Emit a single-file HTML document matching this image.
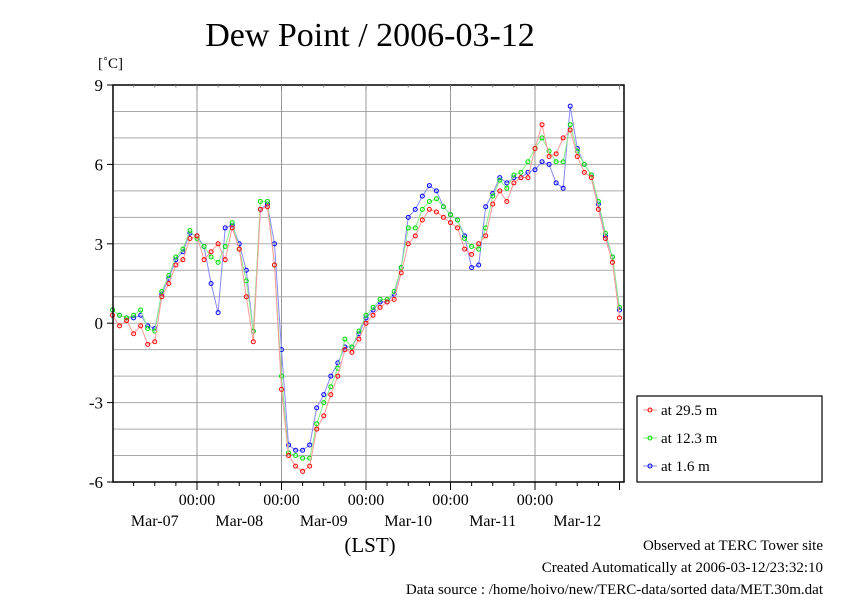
<!DOCTYPE html>
<html><head><meta charset="utf-8"><style>
body{margin:0;background:#fff;}
svg{display:block;font-family:"Liberation Serif",serif;}
</style></head><body>
<svg id="chart" width="842" height="595" viewBox="0 0 842 595" xmlns="http://www.w3.org/2000/svg">
<rect width="842" height="595" fill="#fff"/>
<text x="370" y="46" font-size="34" text-anchor="middle">Dew Point / 2006-03-12</text>
<text x="98" y="68" font-size="15">[˚C]</text>
<g id="grid"></g>
<g id="series"></g>
<rect x="113" y="85" width="511" height="397" fill="none" stroke="#000" stroke-width="1.5"/>
<g id="axes"></g>
<text x="370" y="552" font-size="21" text-anchor="middle">(LST)</text>
<text x="823" y="550" font-size="15" text-anchor="end">Observed at TERC Tower site</text>
<text x="823" y="572" font-size="15" text-anchor="end">Created Automatically at 2006-03-12/23:32:10</text>
<text x="823" y="594" font-size="15" text-anchor="end">Data source : /home/hoivo/new/TERC-data/sorted  data/MET.30m.dat</text>
<g>
<rect x="637" y="396" width="185" height="86" fill="#fff" stroke="#000" stroke-width="1.2"/>
<g id="legend-items"></g>
</g>
</svg>
<script>
const hours = [0,2,4,6,8,10,12,14,16,18,20,22,24,26,28,30,32,34,36,38,40,42,44,46,48,50,52,54,56,58,60,62,64,66,68,70,72,74,76,78,80,82,84,86,88,90,92,94,96,98,100,102,104,106,108,110,112,114,116,118,120,122,124,126,128,130,132,134,136,138,140,142,144];
const red29 = [0.3,-0.1,0.1,-0.4,-0.1,-0.8,-0.7,1.0,1.5,2.2,2.4,3.2,3.3,2.4,2.7,3.0,2.4,3.6,2.8,1.0,-0.7,4.3,4.4,2.2,-2.5,-5.0,-5.4,-5.6,-5.4,-4.0,-3.5,-2.7,-2.0,-1.0,-1.1,-0.6,0.0,0.3,0.6,0.8,0.9,1.9,3.0,3.3,3.9,4.3,4.2,4.0,3.8,3.6,2.8,2.6,3.0,3.3,4.5,5.0,4.6,5.3,5.5,5.5,6.6,7.5,6.3,6.4,7.0,7.3,6.3,5.7,5.5,4.3,3.2,2.3,0.2];
const green12 = [0.5,0.3,0.2,0.3,0.5,-0.2,-0.3,1.2,1.8,2.5,2.8,3.5,3.2,2.9,2.5,2.3,2.9,3.8,2.8,1.6,-0.3,4.6,4.6,2.2,-2.0,-4.9,-5.0,-5.1,-5.1,-3.8,-3.0,-2.4,-1.7,-0.6,-0.9,-0.3,0.3,0.6,0.9,0.9,1.2,2.1,3.6,3.6,4.3,4.6,4.7,4.4,4.1,3.9,3.2,2.9,2.8,3.6,4.8,5.4,5.1,5.6,5.7,6.1,6.6,7.0,6.5,6.1,6.1,7.5,6.5,6.0,5.6,4.6,3.4,2.5,0.6];
const blue16 = [0.5,0.3,0.2,0.2,0.3,-0.1,-0.2,1.1,1.7,2.4,2.7,3.4,3.3,2.9,1.5,0.4,3.6,3.7,3.0,2.0,-0.3,4.3,4.5,3.0,-1.0,-4.6,-4.8,-4.8,-4.6,-3.2,-2.7,-2.0,-1.5,-0.9,-0.9,-0.4,0.2,0.5,0.8,0.8,1.1,2.1,4.0,4.3,4.8,5.2,5.0,4.4,4.1,3.9,3.3,2.1,2.2,4.4,4.9,5.5,5.3,5.5,5.5,5.7,5.8,6.1,6.0,5.3,5.1,8.2,6.6,6.0,5.6,4.5,3.3,2.5,0.5];
const yTicks = [-6,-3,0,3,6,9];
const xTickLabels = ["00:00","00:00","00:00","00:00","00:00"];
const dayLabels = ["Mar-07","Mar-08","Mar-09","Mar-10","Mar-11","Mar-12"];
const legendLabels = ["at 29.5 m","at 12.3 m","at 1.6 m"];

const X0=112.5, PXH=84.5/24, Y0=482, PXD=397/15;
const xs = h => X0 + h*PXH;
const ys = v => Y0 - (v+6)*PXD;
const NS="http://www.w3.org/2000/svg";
function mk(tag, attrs, parent){const e=document.createElementNS(NS,tag);for(const k in attrs)e.setAttribute(k,attrs[k]);parent.appendChild(e);return e;}
const grid=document.getElementById('grid'), axes=document.getElementById('axes'), ser=document.getElementById('series');
for(let v=-5; v<9; v++){
  const l=mk('line',{x1:113,x2:624,y1:ys(v),y2:ys(v),stroke:'#aaa','stroke-width':1},grid);
  
  
}
for(let d=1; d<=5; d++){
  const l=mk('line',{x1:xs(d*24),x2:xs(d*24),y1:85,y2:482,stroke:'#999','stroke-width':1},grid);
  
  
}
for(let h=6; h<145; h+=6){
  const len = h%24===0 ? 8 : 4;
  const t1=mk('line',{x1:xs(h),x2:xs(h),y1:482,y2:482+len,stroke:'#000','stroke-width':1},axes);
  
  
  const t2=mk('line',{x1:xs(h),x2:xs(h),y1:85,y2:85+len*0.6,stroke:'#777','stroke-width':1},axes);
  
  
}
yTicks.forEach(v=>{
  const t=mk('text',{x:103,y:ys(v)+6,'font-size':17,'text-anchor':'end'},axes);
  t.textContent=v;
  
  
  const tk=mk('line',{x1:107,x2:113,y1:ys(v),y2:ys(v),stroke:'#000'},axes);
  
  
});
xTickLabels.forEach((s,i)=>{
  const t=mk('text',{x:xs((i+1)*24),y:505,'font-size':16,'text-anchor':'middle'},axes);
  t.textContent=s;
  
  
});
dayLabels.forEach((s,i)=>{
  const t=mk('text',{x:xs(i*24+12),y:526,'font-size':16,'text-anchor':'middle'},axes);
  t.textContent=s;
  
  
});
const seriesList=[[red29,'#f00','#f99'],[green12,'#0d0','#8e8'],[blue16,'#00f','#88f']];
seriesList.slice().reverse().forEach(([vals,col,lc])=>{
  const g=mk('g',{},ser);
  
  
  const pts=vals.map((v,i)=>xs(hours[i]).toFixed(1)+','+ys(v).toFixed(1)).join(' ');
  const pl=mk('polyline',{points:pts,fill:'none',stroke:lc,'stroke-width':1},g);
  
  
  vals.forEach((v,i)=>{
    const c=mk('circle',{cx:xs(hours[i]),cy:ys(v),r:2,fill:'none',stroke:col,'stroke-width':1},g);
    
    
  });
});
const li=document.getElementById('legend-items');
legendLabels.forEach((s,i)=>{
  const y=410+i*28, col=seriesList[i][1];
  const l=mk('line',{x1:643,x2:657,y1:y,y2:y,stroke:seriesList[i][2]},li);
  
  
  const c=mk('circle',{cx:650,cy:y,r:2,fill:'none',stroke:col},li);
  
  
  const t=mk('text',{x:661,y:y+5,'font-size':15},li);
  t.textContent=s;
  
  
});
</script>
</body></html>
